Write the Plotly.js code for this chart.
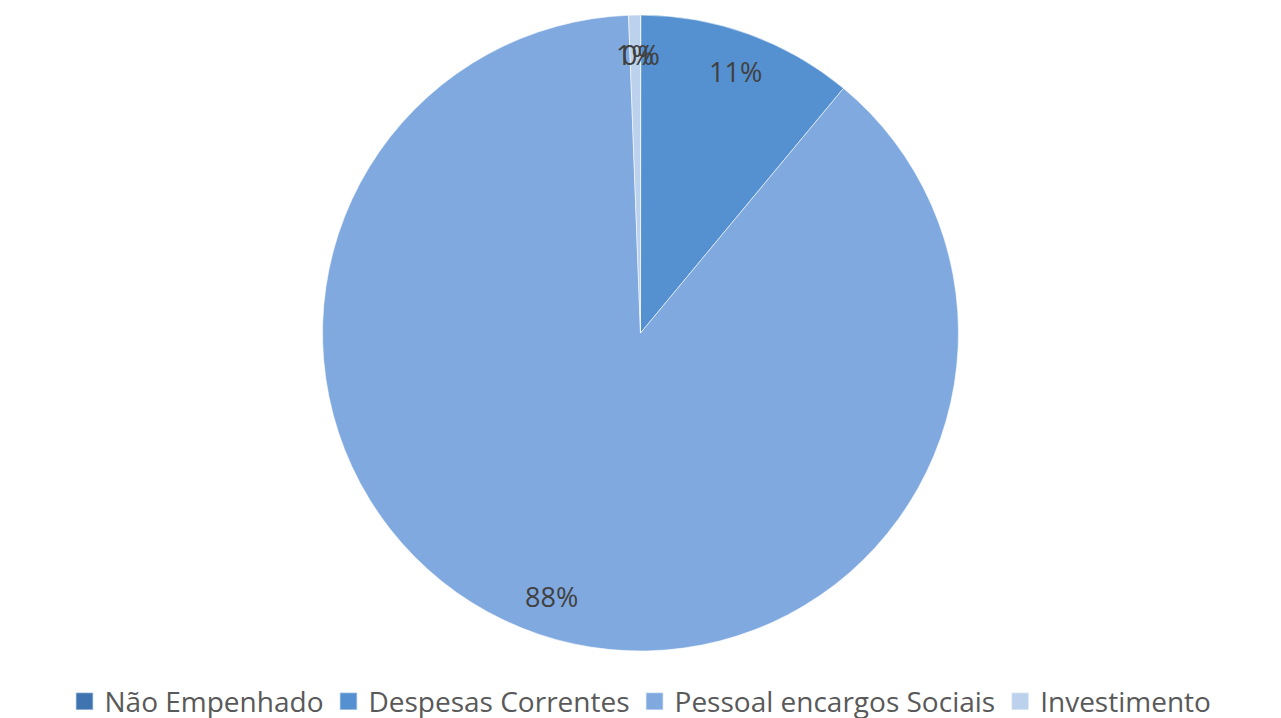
<!DOCTYPE html>
<html>
<head>
<meta charset="utf-8">
<script src="https://cdn.plot.ly/plotly-3.0.1.min.js"></script>
<style>html,body{margin:0;padding:0;background:#fff;}#chart{width:1281px;height:718px;}</style>
</head>
<body>
<div id="chart"></div>
<script>
var categories = ["Não Empenhado", "Despesas Correntes", "Pessoal encargos Sociais", "Investimento"];
var values = [0.02, 11.0, 88.38, 0.6];
var sliceColors = ["#3f74b0", "#5591d0", "#80aadf", "#bcd1ec"];

var fontFam = "'Open Sans', sans-serif";
var labelRadiusFrac = 0.875;

var trace = {
  type: "pie",
  labels: categories,
  values: values,
  sort: false,
  direction: "clockwise",
  rotation: 0,
  marker: { colors: sliceColors, line: { color: "rgba(255,255,255,0.55)", width: 1 } },
  textinfo: "none",
  hoverinfo: "label+percent",
  domain: { x: [0, 1], y: [0.0933, 0.979] }
};

var layout = {
  width: 1281,
  height: 718,
  margin: { l: 0, r: 0, t: 0, b: 0, autoexpand: false },
  paper_bgcolor: "#ffffff",
  showlegend: true,
  legend: {
    orientation: "h",
    x: 0.5, xanchor: "center",
    y: -0.012, yanchor: "bottom",
    font: { family: fontFam, size: 28, color: "#595959" },
    traceorder: "normal"
  }
};

var gd = document.getElementById("chart");
Plotly.newPlot(gd, [trace], layout, { staticPlot: true }).then(function () {
  var fl = gd._fullLayout, gs = fl._size;
  var cd0 = gd.calcdata[0][0];
  var cx = cd0.cx, cy = cd0.cy, r = cd0.r;
  var total = values.reduce(function (a, b) { return a + b; }, 0);
  var cum = 0;
  var anns = [];
  for (var i = 0; i < values.length; i++) {
    var frac = values[i] / total;
    var mid = (cum + frac / 2) * 2 * Math.PI;
    cum += frac;
    var px = cx + labelRadiusFrac * r * Math.sin(mid);
    var py = cy - labelRadiusFrac * r * Math.cos(mid);
    anns.push({
      xref: "paper", yref: "paper",
      x: (px - gs.l) / gs.w,
      y: 1 - (py - gs.t) / gs.h,
      text: Math.round(frac * 100) + "%",
      showarrow: false,
      xanchor: "center", yanchor: "middle",
      font: { family: fontFam, size: 27, color: "#404040" }
    });
  }
  return Plotly.relayout(gd, { annotations: anns });
}).then(function () {
  var pts = gd.querySelectorAll(".legend .legendpoints path");
  for (var k = 0; k < pts.length; k++) {
    var t = pts[k].getAttribute("transform") || "";
    pts[k].setAttribute("transform", t + " scale(1.45)");
  }
});
</script>
</body>
</html>
